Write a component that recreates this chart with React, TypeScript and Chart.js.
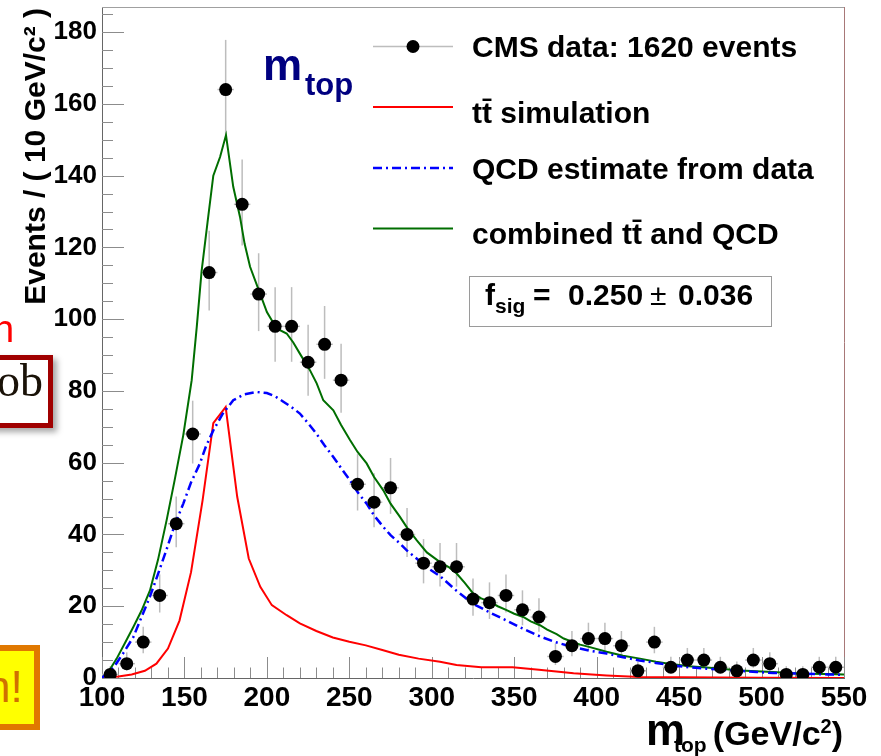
import React, { useEffect, useRef } from 'react';
import { Chart, registerables } from 'chart.js';

Chart.register(...registerables);

// ---------- data ----------
const binCenters = [105, 115, 125, 135, 145, 155, 165, 175, 185, 195, 205, 215, 225, 235, 245, 255, 265, 275, 285, 295, 305, 315, 325, 335, 345, 355, 365, 375, 385, 395, 405, 415, 425, 435, 445, 455, 465, 475, 485, 495, 505, 515, 525, 535, 545];
const dataCounts = [1, 4, 10, 23, 43, 68, 113, 164, 132, 107, 98, 98, 88, 93, 83, 54, 49, 53, 40, 32, 31, 31, 22, 21, 23, 19, 17, 6, 9, 11, 11, 9, 2, 10, 3, 5, 5, 3, 2, 5, 4, 1, 1, 3, 3];
const binHalfWidth = 5;

const ttbarX = [100, 110, 118, 126, 133, 140, 147, 154, 161, 167.5, 175, 182, 189, 196, 203, 212, 220, 230, 240, 250, 260, 270, 280, 292, 305, 315, 325, 330, 349, 365, 386, 406, 426, 450, 500, 550];
const ttbarY = [0, 0.4, 1.0, 2.0, 4.0, 8.2, 16, 29.5, 49.5, 71, 75.5, 50.5, 33.3, 25.4, 20.3, 17.5, 15.2, 13.1, 11.3, 10.1, 9.1, 7.8, 6.5, 5.4, 4.5, 3.6, 3.2, 3.0, 3.0, 2.3, 1.3, 0.7, 0.3, 0.2, 0.1, 0];

const qcdX = [100, 107, 113, 119, 124, 129, 134, 139, 144, 149.3, 154, 159.4, 163, 167.5, 173, 179.6, 186, 193.8, 200, 205, 210, 215, 220, 225, 230, 235, 240.3, 245, 250.4, 255, 260.5, 265, 270.6, 275, 280.7, 285, 290.8, 297, 305, 315, 325, 335, 345, 355, 365.6, 375, 385.8, 396, 406, 416, 426, 436, 446.5, 456, 466.7, 476, 487, 497, 507, 517, 527, 540, 550];
const qcdY = [0, 2.9, 7, 11.4, 17, 22.6, 29, 35.6, 42.5, 48.6, 54.5, 59.8, 64.5, 69, 73.5, 77.4, 79, 79.7, 79.4, 78.5, 77, 75.5, 73.7, 71, 68.1, 64.8, 61.6, 58.5, 55.1, 51.8, 48.6, 45.3, 42.1, 39.8, 37.5, 35.5, 33.3, 30.8, 28.4, 24.3, 20.7, 18.3, 16.1, 13.8, 11.6, 10, 8.6, 7.6, 6.8, 5.8, 4.9, 4.2, 3.5, 3.0, 2.6, 2.3, 2.0, 1.7, 1.4, 1.3, 1.2, 1.0, 0.9];

const combX = [100, 104, 108.9, 114, 119, 124, 129.1, 134, 139.2, 144, 149.3, 154.4, 157.5, 160.4, 164, 167.5, 171.6, 175.2, 179.6, 183.7, 186.5, 189.8, 195.8, 200, 205.9, 212, 216, 220, 226.1, 230.2, 234.2, 240.3, 245, 250.4, 255, 260.5, 265, 270.6, 275, 280.7, 285, 290.8, 297, 305, 310, 315.1, 320, 325.2, 330, 335.3, 340, 345.4, 350, 355.5, 360, 365.6, 370, 375.7, 380, 385.8, 390, 395.9, 406, 416, 426.3, 436, 446.5, 456, 466.7, 477, 486.9, 497, 507.1, 517, 527, 540, 550];
const combY = [0, 1.8, 5.4, 9.8, 14.2, 18.8, 24.4, 33, 44, 55, 67.7, 83, 98, 113.4, 127, 140, 145.2, 151.3, 136.9, 128.5, 121, 114.6, 107.2, 102, 97.4, 96, 93.5, 90.4, 85.8, 82.1, 77.4, 74.6, 70.5, 66.3, 63, 59.8, 56, 52.3, 48.6, 44.9, 41.9, 38.4, 35, 32.3, 31, 29.1, 26.5, 23.5, 22.2, 21.2, 20, 18.9, 17.9, 17, 15.8, 14.7, 13.5, 12.2, 11, 10, 9.3, 8.6, 7.3, 6.2, 5.4, 4.5, 3.8, 3.3, 2.9, 2.5, 2.1, 1.9, 1.7, 1.4, 1.2, 1.1, 1.0];

const xTickValues = [100, 150, 200, 250, 300, 350, 400, 450, 500, 550];
const yTickValues = [0, 20, 40, 60, 80, 100, 120, 140, 160, 180];
const xMin = 100;
const xMax = 550;
const yMin = 0;
const yMax = 187;

const legendLabels = ['CMS data: 1620 events', 'tt\u0304 simulation', 'QCD estimate from data', 'combined tt\u0304 and QCD'];
const yTitle = 'Events / ( 10 GeV/c\u00B2 )';
const fsigValue = '0.250';
const fsigError = '0.036';

// ---------- helpers ----------
const FONT = '"Liberation Sans", Arial, Helvetica, sans-serif';
const f = (size: number, weight = 'bold') => `${weight} ${size}px ${FONT}`;

// Garwood (Poisson) 68% interval, Wilson-Hilferty approximation
function poissonBand(n: number): [number, number] {
  const lo = n === 0 ? 0 : n * Math.pow(1 - 1 / (9 * n) - 1 / (3 * Math.sqrt(n)), 3);
  const m = n + 1;
  const hi = m * Math.pow(1 - 1 / (9 * m) + 1 / (3 * Math.sqrt(m)), 3);
  return [lo, hi];
}

const zip = (xs: number[], ys: number[]) => xs.map((x, i) => ({ x, y: ys[i] }));

const line = (ctx: CanvasRenderingContext2D, x1: number, y1: number, x2: number, y2: number) => {
  ctx.beginPath();
  ctx.moveTo(x1, y1);
  ctx.lineTo(x2, y2);
  ctx.stroke();
};

const framePlugin = {
  id: 'rootFrame',
  beforeDatasetsDraw(chart: any) {
    const { ctx, chartArea: a, scales } = chart;
    const x = scales.x;
    const y = scales.y;
    ctx.save();
    ctx.lineWidth = 1;
    // frame top / right
    ctx.strokeStyle = '#a0a0a0';
    line(ctx, a.left, a.top + 0.5, a.right, a.top + 0.5);
    ctx.strokeStyle = '#a87878';
    line(ctx, a.right + 0.5, a.top, a.right + 0.5, a.bottom);
    // inward ticks
    ctx.strokeStyle = '#8c8c8c';
    for (let v = yMin; v <= yMax; v += 5) {
      const py = Math.round(y.getPixelForValue(v)) + 0.5;
      const len = v % 20 === 0 ? 22 : 11;
      line(ctx, a.left, py, a.left + len, py);
    }
    for (let v = xMin; v <= xMax; v += 10) {
      const px = Math.round(x.getPixelForValue(v)) + 0.5;
      const len = v % 50 === 0 ? 21 : 10.5;
      line(ctx, px, a.bottom, px, a.bottom - len);
    }
    // error bars
    ctx.strokeStyle = '#bdbdbd';
    ctx.lineWidth = 1.5;
    binCenters.forEach((c, i) => {
      const n = dataCounts[i];
      const [lo, hi] = poissonBand(n);
      const px = x.getPixelForValue(c);
      line(ctx, px, y.getPixelForValue(Math.max(lo, yMin)), px, y.getPixelForValue(Math.min(hi, yMax)));
      const py = y.getPixelForValue(n);
      line(ctx, x.getPixelForValue(c - binHalfWidth), py, x.getPixelForValue(c + binHalfWidth), py);
    });
    ctx.restore();
  },
  afterDraw(chart: any) {
    const { ctx } = chart;
    ctx.save();
    ctx.fillStyle = '#000';
    ctx.textBaseline = 'alphabetic';

    // y axis title
    ctx.save();
    ctx.translate(45, 8);
    ctx.rotate(-Math.PI / 2);
    ctx.textAlign = 'right';
    ctx.font = f(30);
    ctx.fillText(yTitle, 0, 0);
    ctx.restore();

    // x axis title: m_top (GeV/c^2), right aligned
    ctx.textAlign = 'left';
    ctx.font = f(34);
    const wOpen = ctx.measureText('(GeV/c').width;
    const wClose = ctx.measureText(')').width;
    ctx.font = f(20);
    const w2 = ctx.measureText('2').width;
    let px = 843 - wOpen - w2 - wClose;
    ctx.font = f(34);
    ctx.fillText('(GeV/c', px, 745);
    px += wOpen;
    ctx.font = f(20);
    ctx.fillText('2', px, 733);
    px += w2;
    ctx.font = f(34);
    ctx.fillText(')', px, 745);
    ctx.font = f(44);
    ctx.fillText('m', 646, 745);
    ctx.font = f(21);
    ctx.fillText('top', 674, 752);

    // m_top annotation
    ctx.fillStyle = '#000080';
    ctx.font = f(44);
    ctx.fillText('m', 263, 80);
    ctx.font = f(31);
    ctx.fillText('top', 305, 95);

    // legend
    const lx1 = 373, lx2 = 453, tx = 472;
    const lineY = [46.5, 107, 168, 228.5];
    const baseY = [57, 123, 179, 244];
    ctx.lineWidth = 1.5;
    ctx.strokeStyle = '#bdbdbd';
    line(ctx, lx1, lineY[0], lx2, lineY[0]);
    ctx.fillStyle = '#000';
    ctx.beginPath();
    ctx.arc((lx1 + lx2) / 2, lineY[0], 6.5, 0, Math.PI * 2);
    ctx.fill();
    ctx.lineWidth = 2;
    ctx.strokeStyle = '#ff0000';
    line(ctx, lx1, lineY[1], lx2, lineY[1]);
    ctx.lineWidth = 2.5;
    ctx.strokeStyle = '#0000ff';
    ctx.setLineDash([9, 4, 2, 4]);
    line(ctx, lx1, lineY[2], lx2, lineY[2]);
    ctx.setLineDash([]);
    ctx.lineWidth = 2;
    ctx.strokeStyle = '#006e00';
    line(ctx, lx1, lineY[3], lx2, lineY[3]);
    ctx.fillStyle = '#000';
    ctx.font = f(30);
    legendLabels.forEach((t, i) => ctx.fillText(t, tx, baseY[i]));

    // f_sig box
    ctx.strokeStyle = '#9a9a9a';
    ctx.lineWidth = 1;
    ctx.strokeRect(469.5, 276.5, 302, 50);
    ctx.font = f(30);
    ctx.fillText('f', 485, 305);
    ctx.font = f(21);
    ctx.fillText('sig', 495, 313);
    ctx.font = f(30);
    ctx.fillText('=', 533, 305);
    ctx.fillText(fsigValue, 568, 305);
    ctx.font = f(30, 'normal');
    ctx.fillText('\u00B1', 650, 305);
    ctx.font = f(30);
    ctx.fillText(fsigError, 678, 305);

    ctx.restore();
  },
};

export default function App() {
  const ref = useRef<HTMLCanvasElement>(null);

  useEffect(() => {
    if (!ref.current) return;
    const chart = new Chart(ref.current, {
      type: 'scatter',
      data: {
        datasets: [
          {
            label: 'data',
            data: zip(binCenters, dataCounts),
            pointRadius: 6.5,
            pointBackgroundColor: '#000',
            pointBorderWidth: 0,
            showLine: false,
          },
          {
            label: 'qcd',
            data: zip(qcdX, qcdY),
            showLine: true,
            pointRadius: 0,
            borderColor: '#0000ff',
            borderWidth: 2.5,
            borderDash: [9, 4, 2, 4],
            tension: 0,
          },
          {
            label: 'combined',
            data: zip(combX, combY),
            showLine: true,
            pointRadius: 0,
            borderColor: '#006e00',
            borderWidth: 2,
            tension: 0,
          },
          {
            label: 'ttbar',
            data: zip(ttbarX, ttbarY),
            showLine: true,
            pointRadius: 0,
            borderColor: '#ff0000',
            borderWidth: 2,
            tension: 0,
          },
        ],
      } as any,
      options: {
        responsive: false,
        animation: false,
        devicePixelRatio: 1,
        events: [],
        layout: { padding: { left: 0, right: 37, top: 7, bottom: 0 } },
        plugins: { legend: { display: false }, tooltip: { enabled: false } },
        scales: {
          x: {
            type: 'linear',
            min: xMin,
            max: xMax,
            afterBuildTicks: (s: any) => {
              s.ticks = xTickValues.map((v) => ({ value: v }));
            },
            afterFit: (s: any) => {
              s.height = 78;
              s.paddingLeft = 0;
              s.paddingRight = 0;
            },
            grid: { display: false, drawTicks: false },
            border: { display: true, color: '#666', width: 1 },
            ticks: {
              font: { family: FONT, size: 28, weight: 'bold' },
              color: '#000',
              padding: 3,
              maxRotation: 0,
              autoSkip: false,
            },
          },
          y: {
            type: 'linear',
            min: yMin,
            max: yMax,
            afterBuildTicks: (s: any) => {
              s.ticks = yTickValues.map((v) => ({ value: v }));
            },
            afterFit: (s: any) => {
              s.width = 102;
              s.paddingTop = 0;
              s.paddingBottom = 0;
            },
            grid: { display: false, drawTicks: false },
            border: { display: true, color: '#666', width: 1 },
            ticks: {
              font: { family: FONT, size: 26, weight: 'bold' },
              color: '#000',
              padding: 5,
              autoSkip: false,
            },
          },
        },
      } as any,
      plugins: [framePlugin],
    });
    return () => chart.destroy();
  }, []);

  return (
    <div style={{ position: 'fixed', left: 0, top: 0, width: 881, height: 756, overflow: 'hidden', background: '#fff' }}>
      <canvas ref={ref} width={881} height={756} style={{ position: 'absolute', left: 0, top: 0, width: 881, height: 756 }} />
      <div style={{ position: 'absolute', left: -7, top: 310, font: `normal 38px ${FONT}`, lineHeight: '38px', color: '#ff0000' }}>n</div>
      <div
        style={{
          position: 'absolute', left: -20, top: 355, width: 58, height: 63, border: '5px solid #a00000', background: '#fff',
          boxShadow: '4px 4px 6px rgba(0,0,0,0.35)', textAlign: 'right', paddingRight: 5, boxSizing: 'content-box',
          font: `normal 46px "Liberation Serif", "DejaVu Serif", serif`, lineHeight: '46px', color: '#1a1208',
          whiteSpace: 'nowrap', overflow: 'visible',
        }}
      >
        <div style={{ marginTop: -2 }}>ob</div>
      </div>
      <div
        style={{
          position: 'absolute', left: -20, top: 645, width: 48, height: 73, border: '6px solid #e07800', background: '#ffff00',
          textAlign: 'right', font: `normal 44px ${FONT}`, lineHeight: '44px', color: '#d07000', boxSizing: 'content-box',
          whiteSpace: 'nowrap',
        }}
      >
        <div style={{ paddingTop: 14, paddingRight: 21 }}>n!</div>
      </div>
    </div>
  );
}
